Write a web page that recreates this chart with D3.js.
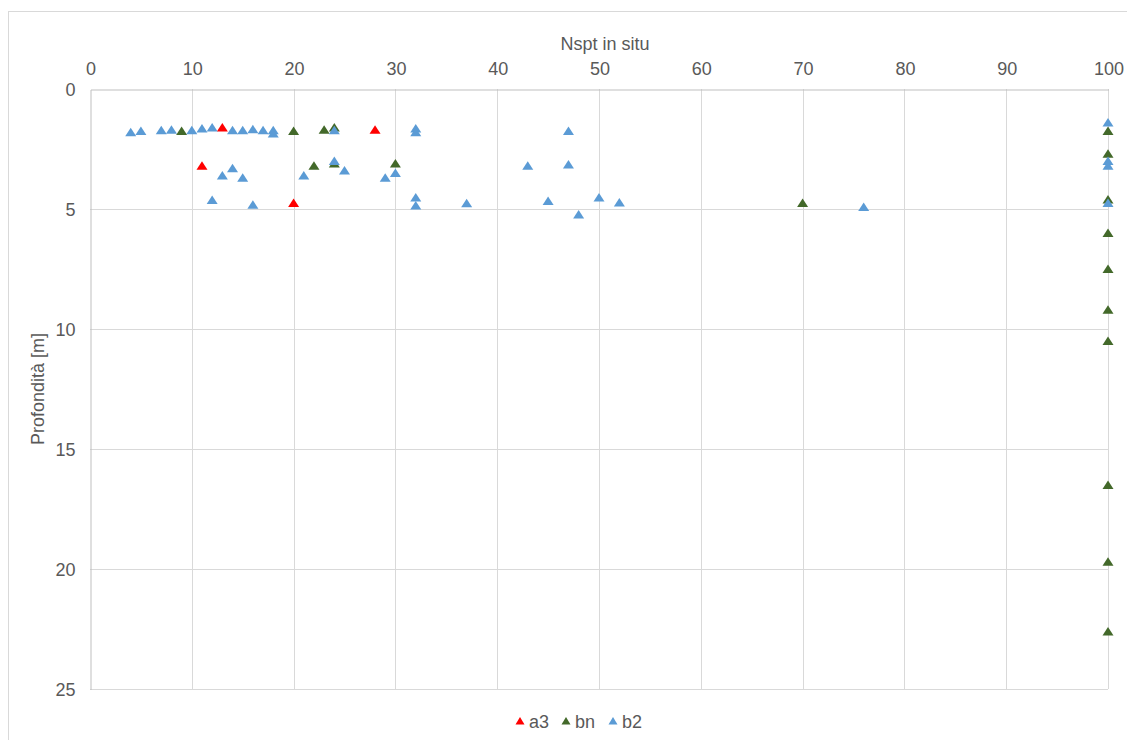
<!DOCTYPE html>
<html>
<head>
<meta charset="utf-8">
<script src="https://cdn.jsdelivr.net/npm/d3@7/dist/d3.min.js"></script>
<style>
  html, body { margin: 0; padding: 0; background: #fff; }
  svg { display: block; font-family: "Liberation Sans", Arial, Helvetica, sans-serif; }
</style>
</head>
<body>
<svg id="chart" width="1127" height="740"></svg>
<script>
// ---- Data ----
const seriesNames = ["a3", "bn", "b2"];
const seriesColors = ["#FF0000", "#43692A", "#5B9BD5"];
const a3Nspt  = [13, 11, 20, 28];
const a3Depth = [1.6, 3.2, 4.75, 1.7];
const bnNspt  = [9, 20, 23, 24, 22, 24, 30, 70, 100, 100, 100, 100, 100, 100, 100, 100, 100, 100];
const bnDepth = [1.75, 1.75, 1.7, 1.6, 3.2, 3.1, 3.1, 4.75, 1.75, 2.7, 4.6, 6.0, 7.5, 9.2, 10.5, 16.5, 19.7, 22.6];
const b2Nspt  = [4, 5, 7, 8, 10, 11, 12, 14, 15, 16, 17, 18, 18, 24, 32, 32, 47,
                 13, 14, 15, 21, 24, 25, 29, 30, 43, 47,
                 12, 16, 32, 32, 37, 45, 48, 50, 52, 76,
                 100, 100, 100, 100];
const b2Depth = [1.8, 1.75, 1.72, 1.7, 1.72, 1.65, 1.6, 1.72, 1.72, 1.68, 1.72, 1.72, 1.85, 1.72, 1.65, 1.8, 1.75,
                 3.6, 3.3, 3.7, 3.6, 3.0, 3.4, 3.7, 3.5, 3.2, 3.15,
                 4.63, 4.82, 4.52, 4.85, 4.76, 4.67, 5.23, 4.52, 4.73, 4.92,
                 1.4, 3.0, 3.2, 4.75];
const xTicks = [0, 10, 20, 30, 40, 50, 60, 70, 80, 90, 100];
const yTicks = [0, 5, 10, 15, 20, 25];
const xTitle = "Nspt in situ";
const yTitle = "Profondità [m]";

const series = [
  { name: seriesNames[0], color: seriesColors[0], xs: a3Nspt, ys: a3Depth },
  { name: seriesNames[1], color: seriesColors[1], xs: bnNspt, ys: bnDepth },
  { name: seriesNames[2], color: seriesColors[2], xs: b2Nspt, ys: b2Depth }
];

// ---- Layout ----
const svg = d3.select("#chart");
const pL = 90, pR = 1108, pT = 89, pB = 689;
const FS = 18;
const x = d3.scaleLinear().domain([0, 100]).range([pL, pR]);
const y = d3.scaleLinear().domain([0, 25]).range([pT, pB]);

// chart border
svg.append("rect").attr("x", 8.5).attr("y", 11.5).attr("width", 1130).attr("height", 740)
  .attr("fill", "#fff").attr("stroke", "#d9d9d9").attr("stroke-width", 1);

// gridlines
const grid = svg.append("g");
grid.selectAll("line.v").data(xTicks.slice(1)).join("line")
  .attr("x1", d => Math.round(x(d)) + 0.5).attr("x2", d => Math.round(x(d)) + 0.5)
  .attr("y1", pT).attr("y2", pB)
  .attr("stroke", "#d9d9d9").attr("stroke-width", 1);
grid.selectAll("line.h").data(yTicks.slice(1)).join("line")
  .attr("y1", d => Math.round(y(d)) + 0.5).attr("y2", d => Math.round(y(d)) + 0.5)
  .attr("x1", pL).attr("x2", pR)
  .attr("stroke", "#d9d9d9").attr("stroke-width", 1);

// axes (top x-axis, left y-axis)
const xAxis = d3.axisTop(x).tickValues(xTicks).tickSize(0).tickPadding(15);
const gx = svg.append("g").attr("transform", `translate(0.5,${pT + 0.5})`).call(xAxis);
gx.select(".domain").attr("stroke", "#bfbfbf");
gx.selectAll("text").attr("fill", "#595959").attr("font-size", FS)
  .attr("font-family", "'Liberation Sans', Arial, sans-serif");

const yAxis = d3.axisLeft(y).tickValues(yTicks).tickSize(0).tickPadding(15);
const gy = svg.append("g").attr("transform", `translate(${pL + 0.5},0.5)`).call(yAxis);
gy.select(".domain").attr("stroke", "#bfbfbf");
gy.selectAll("text").attr("fill", "#595959").attr("font-size", FS)
  .attr("font-family", "'Liberation Sans', Arial, sans-serif");

// titles
svg.append("text").attr("x", 605).attr("y", 50)
  .attr("text-anchor", "middle").attr("fill", "#595959").attr("font-size", FS).text(xTitle);
svg.append("text").attr("transform", `translate(44,${(pT + pB) / 2}) rotate(-90)`)
  .attr("text-anchor", "middle").attr("fill", "#595959").attr("font-size", FS).text(yTitle);

// markers
const tri = "M0,-4.5L5.5,4L-5.5,4Z";
series.forEach(s => {
  const pts = s.xs.map((v, i) => [v, s.ys[i]]);
  svg.append("g").selectAll("path").data(pts).join("path")
    .attr("d", tri)
    .attr("transform", d => `translate(${x(d[0])},${y(d[1])})`)
    .attr("fill", s.color);
});

// legend
const legendX = [520, 566, 613];
const lg = svg.append("g");
series.forEach((s, i) => {
  const g = lg.append("g").attr("transform", `translate(${legendX[i]},721)`);
  g.append("path").attr("d", "M0,-4L4.5,3.5L-4.5,3.5Z").attr("fill", s.color);
  g.append("text").attr("x", 9).attr("y", 7).attr("fill", "#595959").attr("font-size", FS).text(s.name);
});
</script>
</body>
</html>
